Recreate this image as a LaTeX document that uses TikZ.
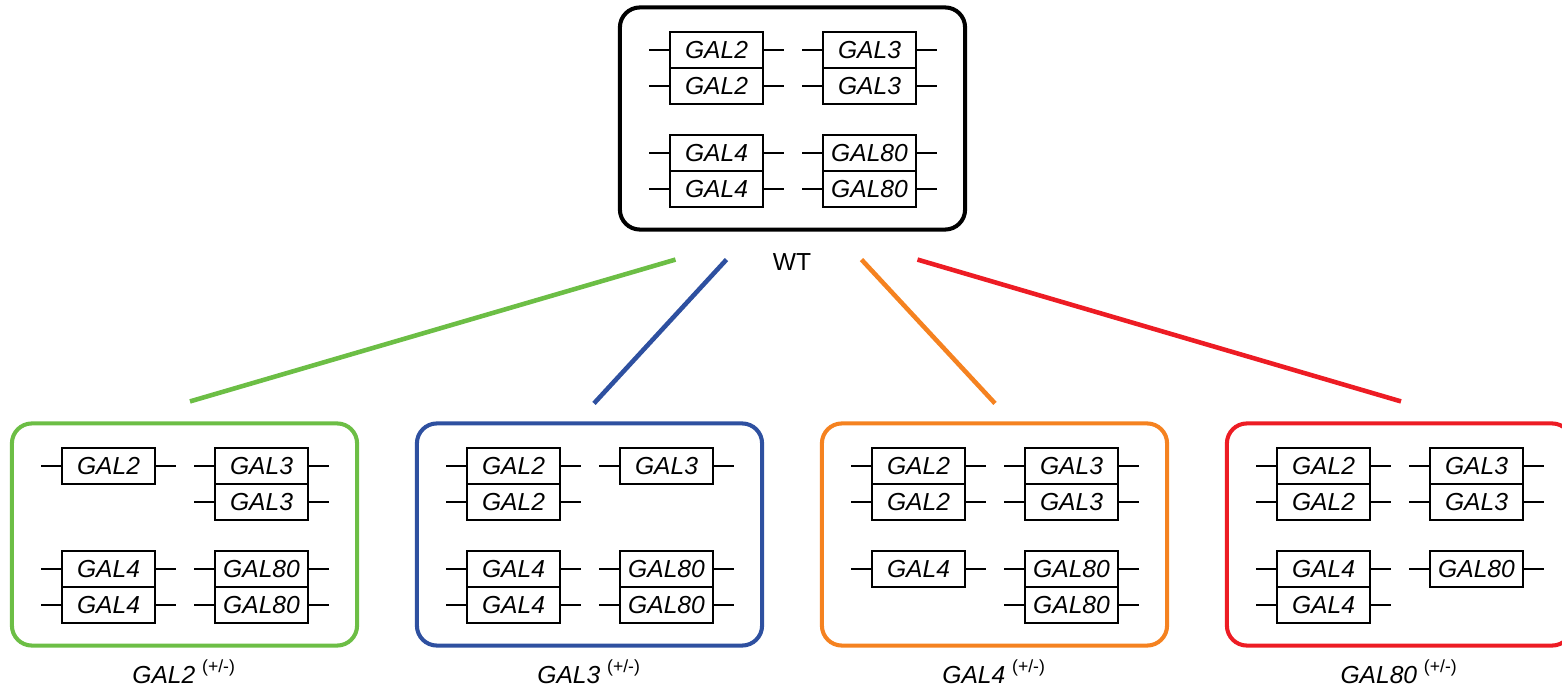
\documentclass[tikz,border=0pt]{standalone}
\usepackage{fontspec}
\setmainfont{Liberation Sans}
\usepackage{tikz}
\usetikzlibrary{positioning}

\definecolor{hetgreen}{RGB}{108,190,69}
\definecolor{hetblue}{RGB}{46,80,160}
\definecolor{hetorange}{RGB}{245,130,32}
\definecolor{hetred}{RGB}{237,28,36}

\tikzset{
  panel/.style={draw, line width=1.15pt, rounded corners=0.2cm,
    minimum width=3.45cm, minimum height=2.22cm},
  gene/.style={draw, line width=0.7pt, minimum width=0.93cm,
    minimum height=0.36cm, inner sep=0pt,
    font=\fontsize{7}{8}\selectfont\itshape},
  lead/.style={line width=0.7pt},
  branch/.style={line width=1.3pt}
}

% one gene copy with its two chromosome leads
\newcommand{\gene}[3]{%
  \node[gene] (#1) at (#2) {#3};
  \draw[lead] (#1.west) -- ++(-20,0);
  \draw[lead] (#1.east) -- ++(20,0);
}

\begin{document}
\begin{tikzpicture}[x=0.01cm, y=-0.01cm,
    every node/.style={font=\fontsize{7}{8}\selectfont}]
    \useasboundingbox (0,0) rectangle (1562,691);

    % wild type
    \begin{scope}[shift={(620,7)}]
    \node[panel] (wt) at (172.5,111.5) {};
    \gene{wt2a}{96.5,43}{GAL2}
    \gene{wt2b}{96.5,79}{GAL2}
    \gene{wt3a}{249.5,43}{GAL3}
    \gene{wt3b}{249.5,79}{GAL3}
    \gene{wt4a}{96.5,146}{GAL4}
    \gene{wt4b}{96.5,182}{GAL4}
    \gene{wt80a}{249.5,146}{GAL80}
    \gene{wt80b}{249.5,182}{GAL80}
    \end{scope}
    \node (wtlabel) at (792,262) {WT};

    % GAL2 (+/-)
    \begin{scope}[shift={(12,423)}]
    \node[panel, draw=hetgreen] (het2) at (172.5,111.5) {};
    \gene{ha2a}{96.5,43}{GAL2}
    \gene{ha3a}{249.5,43}{GAL3}
    \gene{ha3b}{249.5,79}{GAL3}
    \gene{ha4a}{96.5,146}{GAL4}
    \gene{ha4b}{96.5,182}{GAL4}
    \gene{ha80a}{249.5,146}{GAL80}
    \gene{ha80b}{249.5,182}{GAL80}
    \end{scope}

    % GAL3 (+/-)
    \begin{scope}[shift={(417,423)}]
    \node[panel, draw=hetblue] (het3) at (172.5,111.5) {};
    \gene{hb2a}{96.5,43}{GAL2}
    \gene{hb2b}{96.5,79}{GAL2}
    \gene{hb3a}{249.5,43}{GAL3}
    \gene{hb4a}{96.5,146}{GAL4}
    \gene{hb4b}{96.5,182}{GAL4}
    \gene{hb80a}{249.5,146}{GAL80}
    \gene{hb80b}{249.5,182}{GAL80}
    \end{scope}

    % GAL4 (+/-)
    \begin{scope}[shift={(822,423)}]
    \node[panel, draw=hetorange] (het4) at (172.5,111.5) {};
    \gene{hc2a}{96.5,43}{GAL2}
    \gene{hc2b}{96.5,79}{GAL2}
    \gene{hc3a}{249.5,43}{GAL3}
    \gene{hc3b}{249.5,79}{GAL3}
    \gene{hc4a}{96.5,146}{GAL4}
    \gene{hc80a}{249.5,146}{GAL80}
    \gene{hc80b}{249.5,182}{GAL80}
    \end{scope}

    % GAL80 (+/-)
    \begin{scope}[shift={(1227,423)}]
    \node[panel, draw=hetred] (het80) at (172.5,111.5) {};
    \gene{hd2a}{96.5,43}{GAL2}
    \gene{hd2b}{96.5,79}{GAL2}
    \gene{hd3a}{249.5,43}{GAL3}
    \gene{hd3b}{249.5,79}{GAL3}
    \gene{hd4a}{96.5,146}{GAL4}
    \gene{hd4b}{96.5,182}{GAL4}
    \gene{hd80a}{249.5,146}{GAL80}
    \end{scope}

    % branches
    \draw[branch, hetgreen] ([shift={(-117,28)}]wt.south) -- ([shift={(5.5,-20)}]het2.north);
    \draw[branch, hetblue] ([shift={(-66,28)}]wt.south) -- ([shift={(4.5,-18)}]het3.north);
    \draw[branch, hetorange] ([shift={(69,28)}]wt.south) -- ([shift={(0.5,-18)}]het4.north);
    \draw[branch, hetred] ([shift={(125,28)}]wt.south) -- ([shift={(1.5,-20)}]het80.north);

    \node (lbl2) at (184.5,672) {\textit{GAL2} \textsuperscript{(+/-)}};
    \node (lbl3) at (589.5,672) {\textit{GAL3} \textsuperscript{(+/-)}};
    \node (lbl4) at (994.5,672) {\textit{GAL4} \textsuperscript{(+/-)}};
    \node (lbl80) at (1399.5,672) {\textit{GAL80} \textsuperscript{(+/-)}};
\end{tikzpicture}
\end{document}
